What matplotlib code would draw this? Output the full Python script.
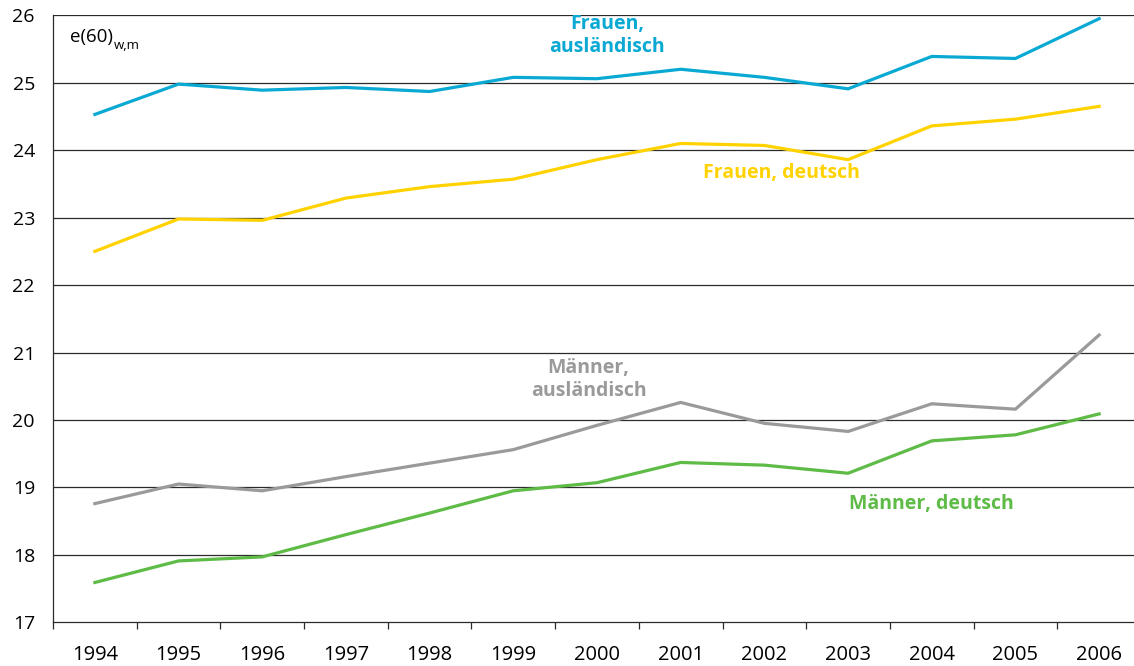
import numpy as np
import matplotlib
matplotlib.use('Agg')
import matplotlib.pyplot as plt

# Data
years = ['1994', '1995', '1996', '1997', '1998', '1999', '2000',
         '2001', '2002', '2003', '2004', '2005', '2006']
frauen_ausl = [24.53, 24.98, 24.89, 24.93, 24.87, 25.08, 25.06,
               25.20, 25.08, 24.91, 25.39, 25.36, 25.95]
frauen_dt = [22.50, 22.98, 22.96, 23.29, 23.46, 23.57, 23.86,
             24.10, 24.07, 23.86, 24.36, 24.46, 24.65]
maenner_ausl = [18.76, 19.05, 18.95, 19.16, 19.36, 19.56, 19.92,
                20.26, 19.95, 19.83, 20.24, 20.16, 21.26]
maenner_dt = [17.59, 17.91, 17.97, 18.30, 18.62, 18.95, 19.07,
              19.37, 19.33, 19.21, 19.69, 19.78, 20.09]

c_cyan = '#0AA9D4'
c_yellow = '#FFD200'
c_gray = '#9A9A9A'
c_green = '#5DBB46'

plt.rcParams['font.family'] = ['Open Sans', 'DejaVu Sans']

fig = plt.figure(figsize=(11.34, 6.66), dpi=100)
ax = fig.add_axes([53 / 1134, 1 - 622.3 / 666, (1141 - 53) / 1134, (622.3 - 15.3) / 666])

x = np.arange(len(years))

# Gridlines
for v in range(18, 27):
    ax.axhline(v, color='#2b2b2b', lw=0.9, zorder=1)

# Lines
ax.plot(x, frauen_ausl, color=c_cyan, lw=2.3, zorder=3, solid_joinstyle='miter')
ax.plot(x, frauen_dt, color=c_yellow, lw=2.3, zorder=3, solid_joinstyle='miter')
ax.plot(x, maenner_ausl, color=c_gray, lw=2.3, zorder=3, solid_joinstyle='miter')
ax.plot(x, maenner_dt, color=c_green, lw=2.3, zorder=3, solid_joinstyle='miter')

ax.set_xlim(-0.5, len(years) - 0.5)
ax.set_ylim(17, 26)

# Axis styling
for s in ['top', 'right']:
    ax.spines[s].set_visible(False)
ax.spines['left'].set_color('#2b2b2b')
ax.spines['bottom'].set_color('#2b2b2b')
ax.spines['left'].set_linewidth(0.9)
ax.spines['bottom'].set_linewidth(0.9)

ax.set_yticks(range(17, 27))
ax.tick_params(axis='y', length=0, pad=13, labelsize=14)
ax.set_xticks(x)
ax.set_xticklabels(years)
ax.tick_params(axis='x', which='major', length=0, pad=16.5, labelsize=14.5)
ax.set_xticks(np.arange(-0.5, len(years), 1.0), minor=True)
ax.tick_params(axis='x', which='minor', length=5, width=0.9, color='#2b2b2b', direction='out')

# Labels
ax.text(-0.3, 25.68, 'e(60)', fontsize=13.5, color='black', ha='left', va='center')
ax.annotate('w,m', xy=(-0.3, 25.68), xytext=(32, -6), textcoords='offset points',
            fontsize=9.5, color='black', ha='left', va='center')
ax.text(6.12, 25.7, 'Frauen,\nausländisch', color=c_cyan, fontsize=14,
        fontweight='bold', ha='center', va='center', linespacing=1.25)
ax.text(8.2, 23.66, 'Frauen, deutsch', color=c_yellow, fontsize=14,
        fontweight='bold', ha='center', va='center')
ax.text(5.9, 20.6, 'Männer,\nausländisch', color=c_gray, fontsize=14,
        fontweight='bold', ha='center', va='center', linespacing=1.25)
ax.text(10.0, 18.76, 'Männer, deutsch', color=c_green, fontsize=14,
        fontweight='bold', ha='center', va='center')

fig.savefig('out.png', dpi=100)
